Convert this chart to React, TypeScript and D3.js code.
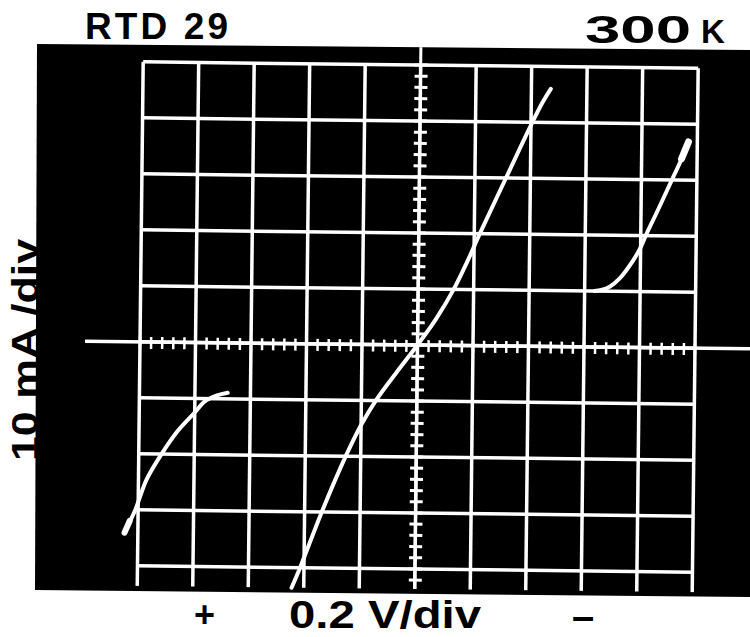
import React from "react";
import * as d3 from "d3";

// Oscilloscope trace data, in divisions (x: 0.2 V/div, y: 10 mA/div)
const mainTrace: [number, number][] = [
  [-2.22, -4.36], [-2.07, -4.0], [-1.69, -3.0], [-1.27, -2.0], [-1.0, -1.44],
  [-0.74, -1.0], [-0.37, -0.49], [0, 0], [0.33, 0.47], [0.64, 1.0],
  [0.88, 1.5], [1.1, 2.0], [1.56, 3.0], [2.0, 3.95], [2.2, 4.35], [2.35, 4.6],
];
const leftTrace: [number, number][] = [
  [-5.24, -3.41], [-5.05, -3.0], [-4.98, -2.8], [-4.85, -2.45], [-4.59, -2.0],
  [-4.3, -1.58], [-4.0, -1.25], [-3.82, -1.05], [-3.6, -0.94], [-3.41, -0.89],
];
const rightTrace: [number, number][] = [
  [3.18, 1.0], [3.3, 1.02], [3.45, 1.08], [3.63, 1.23], [3.86, 1.54],
  [4.0, 1.79], [4.09, 2.0], [4.3, 2.45], [4.55, 3.0], [4.7, 3.33], [4.84, 3.68],
];
// thicker blobs at the trace tips
const tipSegments: [number, number][][] = [
  [[-5.24, -3.41], [-5.15, -3.2]],
  [[4.72, 3.38], [4.84, 3.68]],
];
const xDivs = d3.range(-5, 6);
const yDivs = d3.range(-4, 6);
const minorX = d3.range(-25, 26).map((v) => v / 5);
const minorY = d3.range(-22, 26).map((v) => v / 5);

const titleLeft = "RTD 29";
const titleRight = "300";
const titleRightUnit = "K";
const yLabel = "10 mA /div";
const xLabel = "0.2 V/div";
const plusSign = "+";
const minusSign = "–";

export default function App() {
  const W = 750;
  const H = 637;
  const x = d3.scaleLinear().domain([-5, 5]).range([140, 695]);
  const y = d3.scaleLinear().domain([-5, 5]).range([625, 65]);
  const line = d3
    .line<[number, number]>()
    .x((d) => x(d[0]))
    .y((d) => y(d[1]))
    .curve(d3.curveCatmullRom.alpha(0.5));
  const cx = x(0);
  const cy = y(0);
  const font = "'Liberation Sans', Arial, Helvetica, sans-serif";
  const gridStroke = 3.5;

  return (
    <svg
      width={W}
      height={H}
      style={{ position: "absolute", left: 0, top: 0, background: "#fff" }}
    >
      <defs>
        <clipPath id="scope">
          <polygon points="37,44 750,50 750,597 35,590" />
        </clipPath>
        <clipPath id="gridArea">
          <rect x={0} y={0} width={W} height={589} />
        </clipPath>
      </defs>
      <polygon points="37,44 750,50 750,597 35,590" fill="#000" />
      <g clipPath="url(#scope)">
        <g transform={`rotate(0.65, ${cx}, ${cy})`}>
          <g clipPath="url(#gridArea)">
            {xDivs.map((v) => (
              <line
                key={"vx" + v}
                x1={x(v)}
                x2={x(v)}
                y1={y(5)}
                y2={y(-5)}
                stroke="#fff"
                strokeWidth={gridStroke}
              />
            ))}
            {yDivs.map((v) => (
              <line
                key={"hy" + v}
                x1={x(-5)}
                x2={x(5)}
                y1={y(v)}
                y2={y(v)}
                stroke="#fff"
                strokeWidth={gridStroke}
              />
            ))}
            <line x1={85} x2={760} y1={cy} y2={cy} stroke="#fff" strokeWidth={3.5} />
            <line x1={cx} x2={cx} y1={40} y2={600} stroke="#fff" strokeWidth={3} />
            {minorX.map((v) => (
              <line
                key={"tx" + v}
                x1={x(v)}
                x2={x(v)}
                y1={cy - 5}
                y2={cy + 7}
                stroke="#fff"
                strokeWidth={2.5}
              />
            ))}
            {minorY.map((v) => (
              <line
                key={"ty" + v}
                x1={cx - 6}
                x2={cx + 7}
                y1={y(v)}
                y2={y(v)}
                stroke="#fff"
                strokeWidth={3}
              />
            ))}
          </g>
          {[mainTrace, leftTrace, rightTrace].map((t, i) => (
            <path
              key={"tr" + i}
              d={line(t) || ""}
              fill="none"
              stroke="#fff"
              strokeWidth={4}
              strokeLinecap="round"
              strokeLinejoin="round"
            />
          ))}
          {tipSegments.map((t, i) => (
            <path
              key={"tip" + i}
              d={line(t) || ""}
              fill="none"
              stroke="#fff"
              strokeWidth={i === 1 ? 7 : 6}
              strokeLinecap="round"
            />
          ))}
        </g>
      </g>
      <text
        x={85}
        y={39}
        fontFamily={font}
        fontWeight="bold"
        fontSize={37}
        textLength={143}
        lengthAdjust="spacing"
        fill="#000"
      >
        {titleLeft}
      </text>
      <text
        x={585}
        y={43}
        fontFamily={font}
        fontWeight="bold"
        fontSize={39}
        textLength={106}
        lengthAdjust="spacingAndGlyphs"
        fill="#000"
      >
        {titleRight}
      </text>
      <text x={701} y={43} fontFamily={font} fontWeight="bold" fontSize={33} fill="#000">
        {titleRightUnit}
      </text>
      <text
        transform="translate(38, 461) rotate(-90)"
        fontFamily={font}
        fontWeight="bold"
        fontSize={37}
        textLength={222}
        lengthAdjust="spacingAndGlyphs"
        fill="#000"
      >
        {yLabel}
      </text>
      <text x={194} y={627} fontFamily={font} fontWeight="bold" fontSize={36} fill="#000">
        {plusSign}
      </text>
      <text
        x={289}
        y={628}
        fontFamily={font}
        fontWeight="bold"
        fontSize={39}
        textLength={192}
        lengthAdjust="spacingAndGlyphs"
        fill="#000"
      >
        {xLabel}
      </text>
      <text x={572} y={630} fontFamily={font} fontWeight="bold" fontSize={40} fill="#000">
        {minusSign}
      </text>
    </svg>
  );
}
